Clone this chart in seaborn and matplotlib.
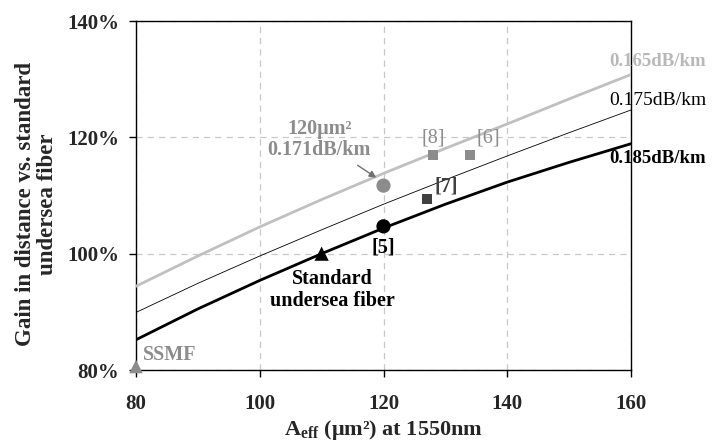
import matplotlib
matplotlib.use("Agg")
import matplotlib.pyplot as plt
import seaborn as sns
import pandas as pd
from matplotlib.ticker import FuncFormatter

# ---- data ----
aeff = [80, 90, 100, 110, 120, 130, 140, 150, 160]
gain_0165 = [94.4, 99.6, 104.6, 109.3, 113.8, 118.1, 122.3, 126.6, 130.8]
gain_0175 = [89.9, 94.9, 99.6, 104.1, 108.5, 112.7, 116.8, 120.8, 124.7]
gain_0185 = [85.2, 90.5, 95.4, 100.0, 104.4, 108.5, 112.3, 115.7, 118.9]

pt_names = ["SSMF", "Standard", "120um2", "[5]", "[7]", "[8]", "[6]"]
pt_x = [80, 110, 120, 120, 127, 128, 134]
pt_y = [80.6, 100.0, 111.7, 104.7, 109.4, 117.0, 117.0]

xticks = [80, 100, 120, 140, 160]
yticks = [80, 100, 120, 140]

sns.set_theme(style="white")
plt.rcParams['font.family'] = ['Liberation Serif', 'DejaVu Serif']
plt.rcParams['mathtext.fontset'] = 'custom'
plt.rcParams['mathtext.rm'] = 'Liberation Serif:bold'
plt.rcParams['mathtext.bf'] = 'Liberation Serif:bold'
plt.rcParams['mathtext.it'] = 'Liberation Serif:bold:italic'

fig = plt.figure(figsize=(7.12, 4.43), dpi=100)
ax = fig.add_axes([136/712, 73/443, (631-136)/712, (370-21)/443])

df = pd.DataFrame({"aeff": aeff, "g165": gain_0165, "g175": gain_0175, "g185": gain_0185})
sns.lineplot(data=df, x="aeff", y="g165", ax=ax, color="#c0c0c0", linewidth=2.0, zorder=3)
sns.lineplot(data=df, x="aeff", y="g175", ax=ax, color="black", linewidth=0.6, zorder=3)
sns.lineplot(data=df, x="aeff", y="g185", ax=ax, color="black", linewidth=2.0, zorder=3)

pts = pd.DataFrame({"name": pt_names, "x": pt_x, "y": pt_y})
styles = {
    "SSMF": ("^", "#8c8c8c", 95),
    "Standard": ("^", "black", 105),
    "120um2": ("o", "#8c8c8c", 105),
    "[5]": ("o", "black", 105),
    "[7]": ("s", "#404040", 55),
    "[8]": ("s", "#8c8c8c", 55),
    "[6]": ("s", "#8c8c8c", 55),
}
for nm, (mk, col, s) in styles.items():
    sub = pts[pts["name"] == nm]
    sns.scatterplot(data=sub, x="x", y="y", ax=ax, marker=mk, color=col, s=s,
                    edgecolor="none", zorder=5, clip_on=False)

ax.set_xlim(80, 160)
ax.set_ylim(80, 140)
ax.set_xticks(xticks)
ax.set_yticks(yticks)
ax.yaxis.set_major_formatter(FuncFormatter(lambda v, p: f"{v:.0f}%"))
ax.tick_params(axis="both", which="major", direction="out", length=5, width=1,
               color="black", labelsize=15, bottom=True, left=True)
ax.tick_params(axis="x", pad=12)
ax.tick_params(axis="y", pad=7)
for lab in ax.get_xticklabels() + ax.get_yticklabels():
    lab.set_fontweight("bold")
ax.grid(True, linestyle=(0, (5, 4)), color="#c8c8c8", linewidth=0.9)
for sp in ax.spines.values():
    sp.set_color("black")
    sp.set_linewidth(1.0)

ax.set_xlabel(r"A$_{\rm eff}$ (μm²) at 1550nm", fontsize=16, fontweight="bold", labelpad=3)
ax.set_ylabel("Gain in distance vs. standard\nundersea fiber", fontsize=16.5,
              fontweight="bold", linespacing=1.05)
ax.yaxis.set_label_coords(-0.158, 0.476)

# right side labels
ax.text(156.5, 133.0, "0.165dB/km", color="#b8b8b8",
        fontsize=13.5, fontweight="bold", ha="left", va="center", clip_on=False)
ax.text(156.5, 126.4, "0.175dB/km", color="black",
        fontsize=14, ha="left", va="center", clip_on=False)
ax.text(156.5, 116.4, "0.185dB/km", color="black",
        fontsize=13.5, fontweight="bold", ha="left", va="center", clip_on=False)

# annotations
ax.annotate("120μm²\n0.171dB/km", xy=(119.2, 112.8), xytext=(109.6, 119.6),
            color="#8c8c8c", fontsize=14.5, fontweight="bold", ha="center", va="center",
            linespacing=1.1,
            arrowprops=dict(arrowstyle="-|>", color="#707070", lw=1.0, shrinkA=2, shrinkB=2,
                            mutation_scale=10))
ax.text(128.0, 119.8, "[8]", color="#8c8c8c", fontsize=14.5, ha="center", va="center")
ax.text(136.9, 119.8, "[6]", color="#8c8c8c", fontsize=14.5, ha="center", va="center")
ax.text(130.2, 111.5, "[7]", color="#404040", fontsize=14.5, fontweight="bold", ha="center", va="center")
ax.text(120.0, 101.1, "[5]", color="black", fontsize=14.5, fontweight="bold", ha="center", va="center")
ax.text(111.7, 93.8, "Standard\nundersea fiber", color="black", fontsize=14.5, fontweight="bold",
        ha="center", va="center", linespacing=1.15)
ax.text(81.1, 82.6, "SSMF", color="#8c8c8c", fontsize=14.5, fontweight="bold",
        ha="left", va="center")

fig.savefig("out.png", dpi=100)
